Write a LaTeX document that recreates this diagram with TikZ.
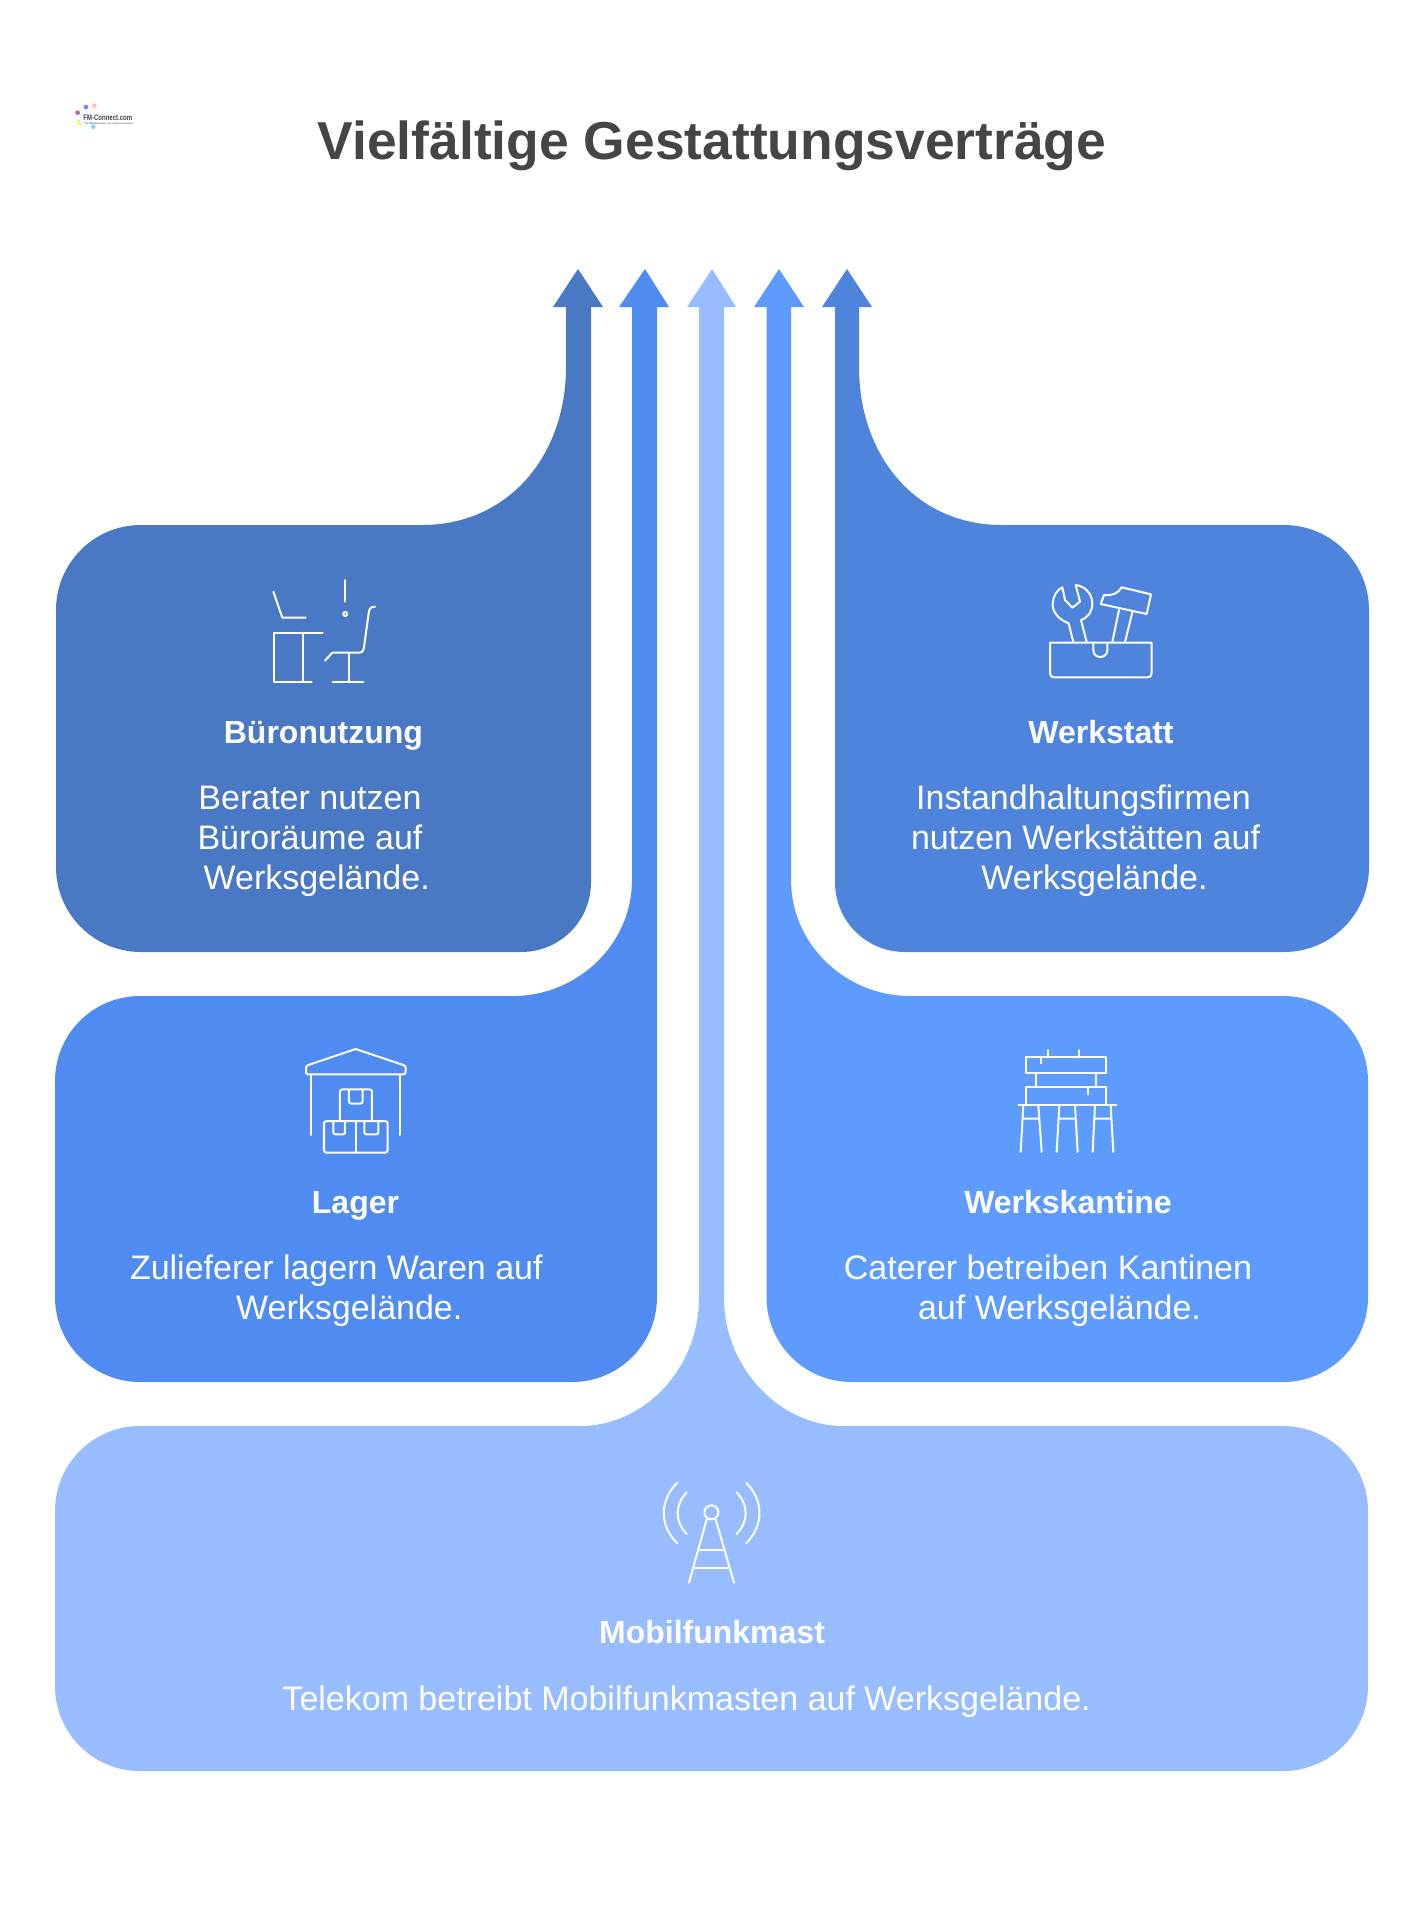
\documentclass[tikz,border=0pt]{standalone}
\usepackage{fontspec}
\setmainfont{Liberation Sans}
\definecolor{cburo}{HTML}{4978C4}
\definecolor{clager}{HTML}{4F8BF1}
\definecolor{cmobil}{HTML}{97BCFF}
\definecolor{ckant}{HTML}{5E9BFF}
\definecolor{cwerk}{HTML}{4F84DD}
\definecolor{ctitle}{HTML}{454545}
\tikzset{
  ttl/.style={font=\fontsize{53.4}{60}\selectfont\bfseries,text=ctitle,anchor=base},
  head/.style={font=\fontsize{32}{38}\selectfont\bfseries,text=white,anchor=base},
  body/.style={font=\fontsize{34}{40}\selectfont,text=white,anchor=base,align=center},
  ico/.style={draw=white,line width=2pt,line cap=round,line join=round,fill=none},
  icoscope/.style={x=0.3333pt,y=-0.3333pt},
}
\begin{document}
\begin{tikzpicture}[x=1pt,y=-1pt]
\useasboundingbox (0,0) rectangle (1425,1920);
\fill[white] (0,0) rectangle (1425,1920);
% Buero
\fill[cburo] (566,307) -- (553,307) -- (578,269) -- (603,307) -- (591,307) -- (591,882)
 .. controls (591,921) and (560,952) .. (521,952) -- (141,952)
 .. controls (94,952) and (56,914) .. (56,867) -- (56,610)
 .. controls (56,563) and (94,525) .. (141,525) -- (422,525)
 .. controls (509,525) and (566,455) .. (566,367) -- cycle;
% Lager
\fill[clager] (632,307) -- (619,307) -- (645,269) -- (669,307) -- (657,307) -- (657,1297)
 .. controls (657,1344) and (619,1382) .. (572,1382) -- (140,1382)
 .. controls (93,1382) and (55,1344) .. (55,1297) -- (55,1081)
 .. controls (55,1034) and (93,996) .. (140,996) -- (513,996)
 .. controls (578,996) and (632,944) .. (632,880) -- cycle;
% Mobil
\fill[cmobil] (699,307) -- (687,307) -- (712,269) -- (736,307) -- (724,307) -- (724,1298)
 .. controls (724,1368) and (780,1426) .. (843,1426) -- (1283,1426)
 .. controls (1330,1426) and (1368,1464) .. (1368,1511) -- (1368,1686)
 .. controls (1368,1733) and (1330,1771) .. (1283,1771) -- (140,1771)
 .. controls (93,1771) and (55,1733) .. (55,1686) -- (55,1511)
 .. controls (55,1464) and (93,1426) .. (140,1426) -- (580,1426)
 .. controls (645,1426) and (699,1368) .. (699,1298) -- cycle;
% Kantine
\fill[ckant] (766.5,307) -- (754,307) -- (779,269) -- (804,307) -- (791,307) -- (791,880)
 .. controls (791,944) and (845,996) .. (910,996) -- (1283,996)
 .. controls (1330,996) and (1368,1034) .. (1368,1081) -- (1368,1297)
 .. controls (1368,1344) and (1330,1382) .. (1283,1382) -- (851.5,1382)
 .. controls (804.5,1382) and (766.5,1344) .. (766.5,1297) -- cycle;
% Werkstatt
\fill[cwerk] (835,307) -- (822,307) -- (847,269) -- (872,307) -- (859,307) -- (859,367)
 .. controls (859,455) and (915,525) .. (1002,525) -- (1284,525)
 .. controls (1331,525) and (1369,563) .. (1369,610) -- (1369,867)
 .. controls (1369,914) and (1331,952) .. (1284,952) -- (905,952)
 .. controls (866,952) and (835,921) .. (835,882) -- cycle;
% Title
\node[ttl] (title) at (712,159) {Vielfältige Gestattungsverträge};
% Logo
\begin{scope}[shift={(50,80)},icoscope]
  \draw[cmobil!50,line width=0.5pt] (90,145) -- (130,85) (75,120) -- (140,130) (105,80) -- (130,150);
  \fill[violet!60] (83,98) circle (7);
  \fill[blue!50] (108,81) circle (7);
  \fill[red!25] (133,77) circle (7);
  \fill[yellow!60] (88,130) circle (7);
  \fill[cyan!50] (130,140) circle (7);
  \node[anchor=base west,inner sep=0pt,xscale=0.75,font=\fontsize{8}{9}\selectfont\bfseries,text=ctitle] (logotext) at (100,121) {FM-Connect.com};
  \node[anchor=base west,inner sep=0pt,font=\fontsize{2.45}{3}\selectfont,text=ctitle] (logosub) at (105,135) {Das FM-Beratungs- und Ingenieur-Netzwerk};
\end{scope}
% Texts
\node[head] (h1) at (323.4,743) {Büronutzung};
\node[body] (b1) at (310,889) {Berater nutzen\\Büroräume auf\\\hspace*{13.4pt}Werksgelände.};
\node[head] (h2) at (1101,743) {Werkstatt};
\node[body] (b2) at (1083.5,889) {Instandhaltungsfirmen\\\hspace*{4pt}nutzen Werkstätten auf\\\hspace*{22pt}Werksgelände.};
\node[head] (h3) at (355.5,1213.6) {Lager};
\node[body] (b3) at (336.3,1319) {Zulieferer lagern Waren auf\\\hspace*{26pt}Werksgelände.};
\node[head] (h4) at (1068,1213.6) {Werkskantine};
\node[body] (b4) at (1048,1319) {Caterer betreiben Kantinen\\\hspace*{23pt}auf Werksgelände.};
\node[head] (h5) at (712,1643.6) {Mobilfunkmast};
\node[body] (b5) at (686.6,1710) {Telekom betreibt Mobilfunkmasten auf Werksgelände.};
% Desk icon
\begin{scope}[shift={(240,560)},icoscope]
  \draw[ico] (100,95) -- (127,173) -- (197,173);
  \draw[ico] (316,60) -- (316,125);
  \draw[ico] (316,162) circle (6);
  \draw[ico] (405,140) .. controls (392,140) and (388,146) .. (386,160) -- (372,262) .. controls (370,275) and (365,278) .. (355,278) -- (277,278) -- (255,302);
  \draw[ico] (326,280) -- (326,365) (278,365) -- (370,365);
  \draw[ico] (248,218) -- (102,218) -- (102,365) -- (215,365) (188,218) -- (188,365);
\end{scope}
% Tools icon
\begin{scope}[shift={(1030,570)},icoscope]
  \draw[ico] (60,218) -- (365,218) -- (365,310) .. controls (365,318) and (360,322) .. (352,322) -- (73,322) .. controls (65,322) and (60,318) .. (60,310) -- cycle;
  \draw[ico] (190,222) -- (190,240) .. controls (190,268) and (232,268) .. (232,240) -- (232,222);
  \draw[ico] (130,216) -- (116,160) .. controls (85,148) and (66,125) .. (68,100) .. controls (70,78) and (80,60) .. (97,52) -- (105,90) -- (127,113) -- (150,95) -- (137,45) .. controls (165,48) and (187,72) .. (187,100) .. controls (187,125) and (175,142) .. (153,150) -- (170,216);
  \draw[ico] (212,102) -- (222,75) .. controls (245,78) and (265,70) .. (275,52) -- (363,73) -- (350,132) -- cycle;
  \draw[ico] (247,216) -- (267,120) (285,216) -- (307,127);
\end{scope}
% Warehouse icon
\begin{scope}[shift={(290,1035)},icoscope]
  \draw[ico] (197,42) -- (55,90) .. controls (50,92) and (48,94) .. (48,98) -- (48,110) .. controls (48,116) and (50,118) .. (55,118) -- (340,118) .. controls (345,118) and (347,116) .. (347,110) -- (347,98) .. controls (347,94) and (345,92) .. (340,90) -- cycle;
  \draw[ico] (63,120) -- (63,300) (331,120) -- (331,300);
  \draw[ico] (150,258) -- (150,172) .. controls (150,166) and (152,163) .. (158,163) -- (238,163) .. controls (244,163) and (246,166) .. (246,172) -- (246,258);
  \draw[ico] (177,165) -- (177,198) .. controls (177,204) and (180,206) .. (185,206) -- (210,206) .. controls (215,206) and (218,204) .. (218,198) -- (218,165);
  \draw[ico,rounded corners=2.5pt] (102,258) rectangle (293,353);
  \draw[ico] (198,258) -- (198,353);
  \draw[ico,rounded corners=2pt] (130,258) -- (130,298) -- (165,298) -- (165,258);
  \draw[ico,rounded corners=2pt] (223,258) -- (223,298) -- (265,298) -- (265,258);
\end{scope}
% Canteen icon
\begin{scope}[shift={(1005,1040)},icoscope]
  \draw[ico] (62,52) rectangle (302,100);
  \draw[ico] (130,30) -- (130,52) (223,30) -- (223,52) (108,52) -- (108,70);
  \draw[ico] (93,100) -- (93,142) (273,100) -- (273,142);
  \draw[ico] (62,195) -- (62,142) -- (304,142) -- (304,195);
  \draw[ico] (248,142) -- (248,163);
  \draw[ico] (40,195) -- (334,195);
  \draw[ico] (55,195) -- (47,336) (100,195) -- (110,336) (55,236) -- (103,236);
  \draw[ico] (163,195) -- (155,336) (210,195) -- (218,336) (160,236) -- (212,236);
  \draw[ico] (270,195) -- (263,336) (317,195) -- (325,336) (268,236) -- (320,236);
\end{scope}
% Mast icon
\begin{scope}[shift={(650,1470)},icoscope]
  \draw[ico] (184,127) circle (21);
  \draw[ico] (170,148) -- (117,338) (197,148) -- (252,338);
  \draw[ico] (150,241) -- (219,241) (134,295) -- (235,295);
  \draw[ico] (82,38) .. controls (28,90) and (28,168) .. (82,220);
  \draw[ico] (110,67) .. controls (74,105) and (74,154) .. (110,192);
  \draw[ico] (260,67) .. controls (296,105) and (296,154) .. (260,192);
  \draw[ico] (288,38) .. controls (342,90) and (342,168) .. (288,220);
\end{scope}
\end{tikzpicture}
\end{document}
